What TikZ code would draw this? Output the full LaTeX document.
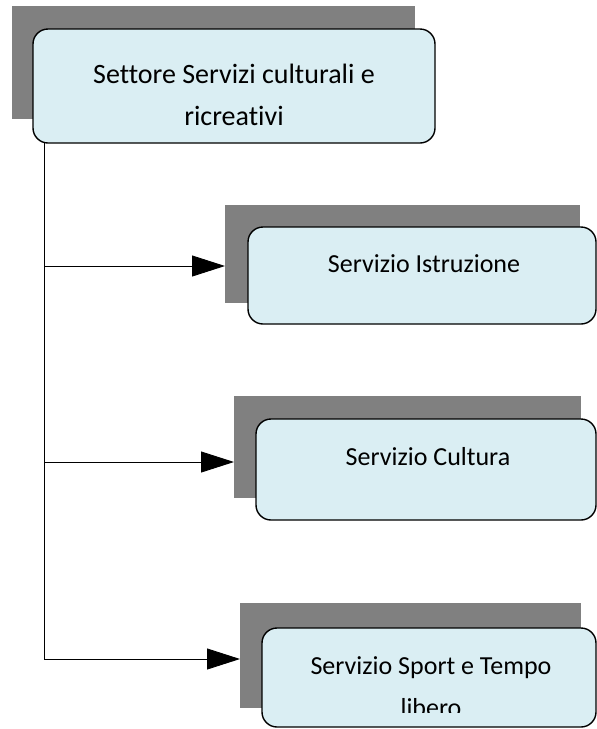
\documentclass[tikz,border=0pt]{standalone}
\usepackage{fontspec}
\setmainfont[Ligatures=NoCommon]{Carlito}
\usetikzlibrary{arrows.meta}
\definecolor{boxfill}{HTML}{DAEEF3}
\definecolor{shade}{HTML}{808080}
\begin{document}
\begin{tikzpicture}[x=1pt,y=-1pt,
  shadowbox/.style={fill=shade,draw=none},
  unitbox/.style={fill=boxfill,draw=black,line width=1.4pt,rounded corners=15pt},
  label/.style={inner sep=0pt,anchor=base,font=\fontsize{26}{40}\selectfont},
  toplabel/.style={inner sep=0pt,anchor=base,font=\fontsize{28}{42}\selectfont},
  link/.style={draw=black,line width=0.9pt},
  feed/.style={link,-{Triangle[length=33pt,width=21pt]}}]
\useasboundingbox (0,0) rectangle (597,729);

% head unit
\fill[shadowbox] (12,6) rectangle (415,119);
\draw[unitbox] (33,29) rectangle (435,143);
\node[toplabel] (head1) at (234,83) {Settore Servizi culturali e};
\node[toplabel] (head2) at (234,125) {ricreativi};
\coordinate (trunk) at (44,143);

% Servizio Istruzione
\fill[shadowbox] (225,205) rectangle (580,303);
\draw[unitbox] (248,227) rectangle (596,324);
\node[label] (istr) at (424,272) {Servizio Istruzione};
\coordinate (in2) at (225,266);

% Servizio Cultura
\fill[shadowbox] (234,396) rectangle (581,498);
\draw[unitbox] (256,419) rectangle (596,520);
\node[label] (cult) at (428,465) {Servizio Cultura};
\coordinate (in3) at (234,462);

% Servizio Sport e Tempo libero
\fill[shadowbox] (240,603) rectangle (581,708);
\draw[unitbox] (262,628) rectangle (596,727);
\node[label] (sport1) at (431,674) {Servizio Sport e Tempo};
\begin{scope}
  \clip (262,690) rectangle (596,712);
  \node[label] (sport2) at (431,716) {libero};
\end{scope}
\coordinate (in4) at (240,659);

% connectors
\draw[link] (trunk) -- (trunk |- in4);
\draw[feed] (trunk |- in2) -- (in2);
\draw[feed] (trunk |- in3) -- (in3);
\draw[feed] (trunk |- in4) -- (in4);
\end{tikzpicture}
\end{document}
